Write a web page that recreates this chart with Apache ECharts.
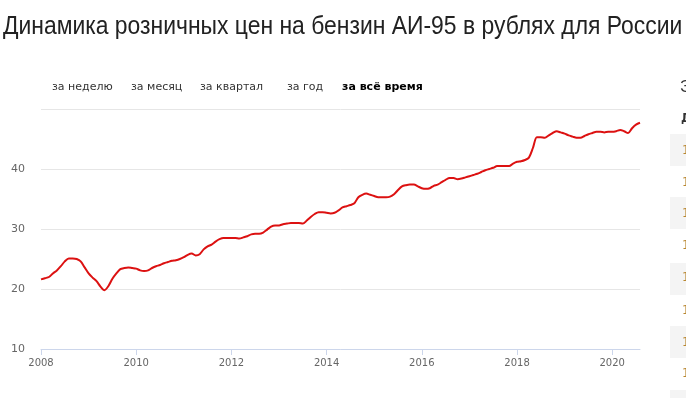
<!DOCTYPE html>
<html><head><meta charset="utf-8">
<script src="https://cdn.jsdelivr.net/npm/echarts@6/dist/echarts.min.js"></script>
<style>html,body{margin:0;padding:0;background:#fff}#c{width:686px;height:398px}</style>
</head><body><div id="c"></div>
<script>
var titleText = 'Динамика розничных цен на бензин АИ-95 в рублях для России';
var rangeButtons = ['за неделю', 'за месяц', 'за квартал', 'за год', 'за всё время'];
var startYear = 2008; // monthly values starting January 2008
var prices = [
21.6,21.8,22.0,22.6,23.1,23.8,24.6,25.1,25.1,25.0,24.6,23.6,
22.6,21.9,21.3,20.4,19.8,20.5,21.7,22.6,23.3,23.5,23.6,23.5,
23.4,23.1,23.0,23.1,23.5,23.8,24.0,24.3,24.5,24.7,24.8,25.0,
25.3,25.7,25.9,25.6,25.8,26.6,27.1,27.4,27.9,28.3,28.5,28.5,
28.5,28.5,28.4,28.6,28.8,29.1,29.2,29.2,29.4,29.9,30.4,30.6,
30.6,30.8,30.9,31.0,31.0,31.0,30.9,31.4,32.0,32.5,32.8,32.8,
32.7,32.6,32.7,33.1,33.6,33.8,34.0,34.3,35.3,35.7,35.9,35.7,
35.5,35.3,35.3,35.3,35.4,35.8,36.5,37.1,37.3,37.4,37.4,37.1,
36.8,36.7,36.8,37.2,37.4,37.8,38.2,38.5,38.5,38.3,38.4,38.6,
38.8,39.0,39.2,39.5,39.8,40.0,40.2,40.5,40.5,40.5,40.5,40.9,
41.2,41.3,41.5,41.9,43.5,45.3,45.3,45.2,45.6,46.0,46.3,46.1,
45.9,45.6,45.4,45.2,45.2,45.5,45.8,46.0,46.2,46.2,46.1,46.2,
46.2,46.3,46.5,46.3,46.0,46.8,47.4,47.7
];
var yTicks = [10, 20, 30, 40, 50];
var xTicks = [2008, 2010, 2012, 2014, 2016, 2018, 2020];

var seriesData = prices.map(function (v, i) { return [startYear + i / 12, v]; });
var lastX = startYear + (prices.length - 1) / 12;

var chart = echarts.init(document.getElementById('c'), null, {renderer: 'canvas'});
var btnX = [52, 131, 200, 287, 342];
var graphics = [];
graphics.push({type: 'text', x: 3, y: 15, scaleX: 0.916, style: {
  text: titleText, fill: '#222', font: '25px "Liberation Sans"', verticalAlign: 'top'}});
rangeButtons.forEach(function (t, i) {
  graphics.push({type: 'text', left: btnX[i], top: 82, style: {
    text: t, fill: i === 4 ? '#000' : '#333',
    font: (i === 4 ? 'bold ' : '') + '11px "DejaVu Sans"'}});
});
// partial table at right edge
var rowTops = [134, 197, 263, 326, 390];
rowTops.forEach(function (y) {
  graphics.push({type: 'rect', shape: {x: 670, y: y, width: 20, height: 32}, style: {fill: '#f4f4f4'}});
});
graphics.push({type: 'text', left: 680, top: 80, style: {text: 'Э', fill: '#333', font: '16px "Liberation Sans"'}});
graphics.push({type: 'text', left: 681, top: 113, style: {text: 'Д', fill: '#333', font: 'bold 12px "DejaVu Sans"'}});
[150, 182, 213, 245, 277, 310, 342, 373].forEach(function (y) {
  graphics.push({type: 'text', left: 682, top: y - 5, style: {text: '1', fill: '#b8862e', font: '12px "DejaVu Sans"'}});
});

chart.setOption({
  animation: false,
  grid: {left: 41, right: 46, top: 109, bottom: 49, containLabel: false},
  xAxis: {
    type: 'value', min: startYear, max: lastX, interval: 2,
    axisLine: {lineStyle: {color: '#ccd6eb'}},
    axisTick: {show: true, length: 6, lineStyle: {color: '#ccd6eb'}},
    splitLine: {show: false},
    axisLabel: {color: '#666', fontFamily: 'DejaVu Sans', fontSize: 10, margin: 9,
      showMaxLabel: false,
      formatter: function (v) { return xTicks.indexOf(Math.round(v)) >= 0 && Math.abs(v - Math.round(v)) < 1e-6 ? String(Math.round(v)) : ''; }}
  },
  yAxis: {
    type: 'value', min: yTicks[0], max: yTicks[yTicks.length - 1], interval: 10,
    axisLine: {show: false}, axisTick: {show: false},
    splitLine: {lineStyle: {color: '#e6e6e6'}},
    axisLabel: {color: '#666', fontFamily: 'DejaVu Sans', fontSize: 11, margin: 16,
      formatter: function (v) { return v === 50 ? '' : String(v); }}
  },
  series: [{type: 'line', data: seriesData, smooth: 0.3, showSymbol: false,
    lineStyle: {color: '#dc1111', width: 2}}],
  graphic: graphics
});
</script></body></html>
